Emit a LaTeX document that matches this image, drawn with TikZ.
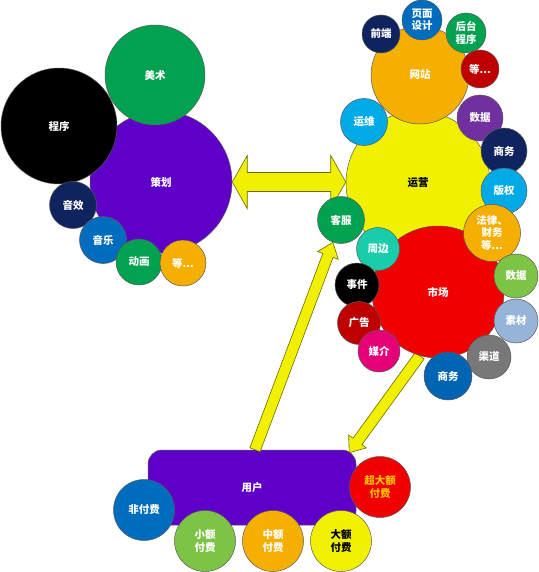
\documentclass[tikz,border=0pt]{standalone}
\usepackage{fontspec}
\newfontfamily\cjk{Noto Sans CJK SC}
\usetikzlibrary{calc}
\pgfdeclarelayer{back}\pgfdeclarelayer{mid}
\pgfsetlayers{back,mid,main}
\definecolor{cpurple}{RGB}{95,0,200}
\definecolor{cgreen}{RGB}{0,162,80}
\definecolor{cnavy}{RGB}{15,35,95}
\definecolor{cblue}{RGB}{0,108,190}
\definecolor{corange}{RGB}{245,175,0}
\definecolor{cyel}{RGB}{240,240,0}
\definecolor{cdred}{RGB}{190,0,0}
\definecolor{clblue}{RGB}{0,170,230}
\definecolor{cvio}{RGB}{112,48,160}
\definecolor{cteal}{RGB}{25,205,170}
\definecolor{cred}{RGB}{240,0,0}
\definecolor{cmag}{RGB}{230,0,120}
\definecolor{clgreen}{RGB}{125,195,70}
\definecolor{csteel}{RGB}{150,180,215}
\definecolor{cgray}{RGB}{120,120,120}
\definecolor{cbiz}{RGB}{0,100,180}
\definecolor{cgold}{RGB}{255,192,0}
\tikzset{
  bub/.style={circle, draw=black!65, line width=0.5pt, inner sep=0pt, text=white,
    font=\cjk\bfseries\fontsize{10.5}{12.5}\selectfont, align=center, minimum size=#1},
  blk/.style={fill=cyel, draw=black!55!cyel, line width=0.6pt, line join=miter}
}
\newcommand\blockarrow[5]{%
  \coordinate (bh) at ($(#2)!#5!(#1)$);
  \draw[blk] ($(#1)!#3!90:(#2)$) -- ($(bh)!#3!-90:(#1)$) -- ($(bh)!#4!-90:(#1)$)
    -- (#2) -- ($(bh)!#4!90:(#1)$) -- ($(bh)!#3!90:(#1)$) -- ($(#1)!#3!-90:(#2)$) -- cycle;}
\begin{document}
\begin{tikzpicture}[x=1pt,y=-1pt]
\useasboundingbox (0,0) rectangle (538,572);
\begin{pgfonlayer}{back}
\node[rectangle, rounded corners=14pt, fill=cpurple, draw=black!65, line width=0.5pt,
  minimum width=208pt, minimum height=75pt, text=white,
  font=\cjk\bfseries\fontsize{10.5}{12.5}\selectfont] (yh) at (252,487.5) {用户};
\end{pgfonlayer}
% left cluster
\node[bub=142pt, fill=cpurple] (chj) at (161,182) {策划};
\node[bub=100pt, fill=cgreen] (ms) at (155,75) {美术};
\node[bub=116pt, fill=black] (cx) at (59,126) {程序};
\node[bub=47pt, fill=cnavy] (yx) at (73,205) {音效};
\node[bub=47pt, fill=cblue] (yl) at (103,240) {音乐};
\node[bub=46pt, fill=cgreen] (dh) at (139,262) {动画};
\node[bub=46pt, fill=corange] (dl) at (183,263) {等...};
% right cluster
\node[bub=144pt, fill=cyel, text=black] (yy) at (418,183) {运营};
\node[bub=98pt, fill=corange] (wz) at (420,75) {网站};
\node[bub=38pt, fill=cnavy] (qd) at (381,34) {前端};
\node[bub=40pt, fill=cblue] (ym) at (422,20) {页面\\设计};
\node[bub=40pt, fill=cgreen] (ht) at (466,33) {后台\\程序};
\node[bub=38pt, fill=cdred] (wd) at (480,69) {等...};
\node[bub=47pt, fill=clblue] (yw) at (364,122) {运维};
\node[bub=46pt, fill=cvio] (sj) at (480,118) {数据};
\node[bub=46pt, fill=cnavy] (sw) at (504,151) {商务};
\node[bub=46pt, fill=clblue] (bq) at (504,191) {版权};
\node[bub=132pt, fill=cred] (sc) at (438,292) {市场};
\node[bub=57pt, fill=corange] (fl) at (492,233) {法律、\\财务\\等...};
\node[bub=47pt, fill=cgreen] (kf) at (341,220) {客服};
\node[bub=43pt, fill=cteal] (zb) at (378,249) {周边};
\node[bub=44pt, fill=black] (shj) at (357,285) {事件};
\node[bub=43pt, fill=cdred] (gg) at (359,323) {广告};
\node[bub=42pt, fill=cmag] (mj) at (379,351) {媒介};
\node[bub=44pt, fill=clgreen] (sj2) at (516,276) {数据};
\node[bub=44pt, fill=csteel] (scai) at (516,321) {素材};
\node[bub=44pt, fill=cgray] (qdao) at (489,357) {渠道};
\node[bub=48pt, fill=cbiz] (sw2) at (448,376) {商务};
% bottom
\node[bub=61pt, fill=cblue] (ffl) at (144,510) {非付费};
\node[bub=61pt, fill=clgreen] (xe) at (205,541) {小额\\付费};
\node[bub=61pt, fill=corange] (ze) at (273,541) {中额\\付费};
\node[bub=61pt, fill=cyel, text=black] (de) at (341,541) {大额\\付费};
\node[bub=61pt, fill=cred, text=cgold] (cd) at (380,487) {超大额\\付费};
% arrows
\begin{pgfonlayer}{mid}
\coordinate (dL) at (chj.east);
\coordinate (dR) at (yy.west |- chj.east);
\coordinate (hL) at ($(dL)!15pt!(dR)$);
\coordinate (hR) at ($(dR)!15pt!(dL)$);
\draw[blk] (dL) -- ($(hL)!26.5pt!90:(dR)$) -- ($(hL)!9.5pt!90:(dR)$)
  -- ($(hR)!9.5pt!-90:(dL)$) -- ($(hR)!26.5pt!-90:(dL)$) -- (dR)
  -- ($(hR)!26.5pt!90:(dL)$) -- ($(hR)!9.5pt!90:(dL)$)
  -- ($(hL)!9.5pt!-90:(dR)$) -- ($(hL)!26.5pt!-90:(dR)$) -- cycle;
\coordinate (a1s) at ($(yh.north)+(3,0)$);
\coordinate (a1e) at (kf.250);
\blockarrow{a1s}{a1e}{5.5pt}{11pt}{14pt}
\coordinate (a2s) at (sc.254);
\coordinate (a2e) at ($(yh.north east)+(-7,3)$);
\blockarrow{a2s}{a2e}{5.5pt}{11pt}{14pt}
\end{pgfonlayer}
\end{tikzpicture}
\end{document}
